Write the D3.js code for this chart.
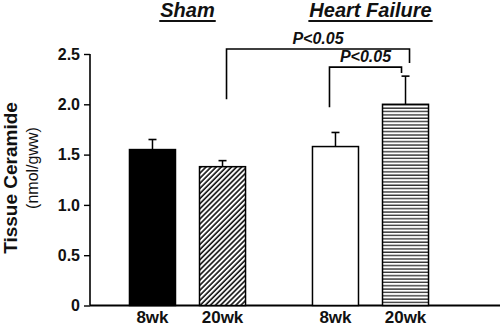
<!DOCTYPE html>
<html><head><meta charset="utf-8">
<script src="https://cdn.jsdelivr.net/npm/d3@7"></script>
<style>body{margin:0;background:#fff}svg{display:block}text{font-family:"Liberation Sans",Arial,sans-serif}</style>
</head><body>
<svg id="c" width="500" height="326"></svg>
<script>
const groups = ["Sham", "Heart Failure"];
const times = ["8wk", "20wk"];
const means = [[1.55, 1.38], [1.58, 2.00]];
const errors = [[0.10, 0.06], [0.14, 0.28]];
const fills = [["black", "url(#diag)"], ["white", "url(#horiz)"]];
const yTicks = [0, 0.5, 1.0, 1.5, 2.0, 2.5];
const yTickLabels = ["0", "0.5", "1.0", "1.5", "2.0", "2.5"];
const pLabels = ["P<0.05", "P<0.05"];
// brackets: [leftGroup,leftTime,leftBottom, top, rightGroup,rightTime,rightBottom]
const brackets = [
  {lg:0, lt:1, lb:2.05, top:2.55, rg:1, rt:1, rb:2.41, dl:4, dr:4},
  {lg:1, lt:0, lb:1.97, top:2.37, rg:1, rt:1, rb:2.31, dl:-6, dr:-4}
];

const svg = d3.select("#c");
const defs = svg.append("defs");
const pd = defs.append("pattern").attr("id","diag").attr("patternUnits","userSpaceOnUse")
  .attr("width",3.6).attr("height",3.6).attr("patternTransform","rotate(45)");
pd.append("rect").attr("width",3.6).attr("height",3.6).attr("fill","white");
pd.append("line").attr("x1",1).attr("x2",1).attr("y1",0).attr("y2",3.6).attr("stroke","#111").attr("stroke-width",1.6);
const ph = defs.append("pattern").attr("id","horiz").attr("patternUnits","userSpaceOnUse")
  .attr("width",10).attr("height",3.35);
ph.append("rect").attr("width",10).attr("height",3.35).attr("fill","white");
ph.append("line").attr("x1",0).attr("x2",10).attr("y1",1).attr("y2",1).attr("stroke","#333").attr("stroke-width",1.4);

const y = d3.scaleLinear().domain([0, 2.5]).range([305.5, 54]);
const x0 = d3.scaleBand().domain(groups).range([96, 462]);
const x1 = d3.scaleBand().domain(times).range([0, x0.bandwidth()]).paddingInner(0.343).paddingOuter(0.478);
const cx = (g,t) => x0(groups[g]) + x1(times[t]) + x1.bandwidth()/2;

// y axis
const yAxis = svg.append("g").attr("transform","translate(90,0)")
  .call(d3.axisLeft(y).tickValues(yTicks).tickFormat((d,i)=>yTickLabels[i]).tickSize(6).tickPadding(4));
yAxis.select(".domain").attr("stroke-width",1.6).attr("d", `M0,${y(2.5)}V${y(0)}`);
yAxis.selectAll(".tick line").attr("stroke-width",1.4);
yAxis.selectAll("text").attr("font-size",16).attr("font-weight","bold").attr("fill","#111");

// x axis line
svg.append("line").attr("x1",90).attr("x2",500).attr("y1",y(0)).attr("y2",y(0)).attr("stroke","black").attr("stroke-width",2);

// bars
groups.forEach((g,gi)=>{
  times.forEach((t,ti)=>{
    const xc = cx(gi,ti), w = x1.bandwidth();
    const v = means[gi][ti], e = errors[gi][ti];
    svg.append("line").attr("x1",xc).attr("x2",xc).attr("y1",y(v)).attr("y2",y(v+e)).attr("stroke","black").attr("stroke-width",1.5);
    svg.append("line").attr("x1",xc-4).attr("x2",xc+4).attr("y1",y(v+e)).attr("y2",y(v+e)).attr("stroke","black").attr("stroke-width",1.6);
    svg.append("rect").attr("x",xc-w/2).attr("width",w).attr("y",y(v)).attr("height",y(0)-y(v))
      .attr("fill",fills[gi][ti]).attr("stroke","black").attr("stroke-width",1.5);
    svg.append("text").attr("x",xc).attr("y",323).attr("text-anchor","middle")
      .attr("font-size",17).attr("font-weight","bold").attr("fill","#111").text(t);
  });
  // group titles
  const gc = x0(g) + x0.bandwidth()/2;
  const tt = svg.append("text").attr("x",gc).attr("y",17).attr("text-anchor","middle")
    .attr("font-size",20).attr("font-weight","bold").attr("font-style","italic").attr("fill","#111").text(g);
  const bb = tt.node().getBBox();
  svg.append("line").attr("x1",bb.x-1).attr("x2",bb.x+bb.width+1).attr("y1",21).attr("y2",21).attr("stroke","#111").attr("stroke-width",2);
});

// brackets
brackets.forEach((b,i)=>{
  const xl = cx(b.lg,b.lt)+b.dl, xr = cx(b.rg,b.rt)+b.dr;
  svg.append("path").attr("d",`M${xl},${y(b.lb)}V${y(b.top)}H${xr}V${y(b.rb)}`)
    .attr("fill","none").attr("stroke","black").attr("stroke-width",1.6);
  svg.append("text").attr("x",(xl+xr)/2).attr("y",y(b.top)-5).attr("text-anchor","middle")
    .attr("font-size",16).attr("font-weight","bold").attr("font-style","italic").attr("fill","#111").text(pLabels[i]);
});

// y label
svg.append("text").attr("transform","translate(17,178) rotate(-90)").attr("text-anchor","middle")
  .attr("font-size",19).attr("font-weight","bold").attr("fill","#111").text("Tissue Ceramide");
svg.append("text").attr("transform","translate(38,168) rotate(-90)").attr("text-anchor","middle")
  .attr("font-size",16).attr("fill","#111").text("(nmol/gww)");
</script>
</body></html>
